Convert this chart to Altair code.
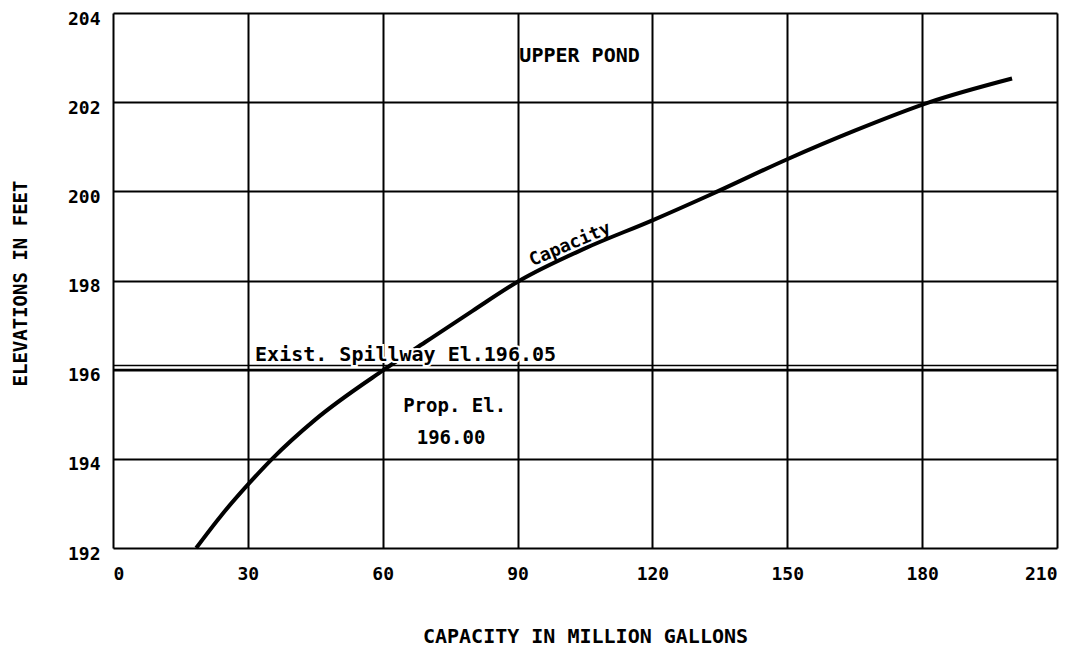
import altair as alt
import pandas as pd

# Capacity curve
capacity = [18.5, 24, 30, 35.4, 45, 60.3, 69.5, 80, 90.5, 105, 120, 133, 150, 165, 181.7, 200]
elevation = [192.0, 192.72, 193.42, 194.0, 194.88, 196.0, 196.62, 197.32, 198.0, 198.72,
             199.35, 199.93, 200.72, 201.36, 202.0, 202.53]

x_ticks = [0, 30, 60, 90, 120, 150, 180, 210]
y_ticks = [192, 194, 196, 198, 200, 202, 204]

spillway_el = 196.05
prop_el = 196.00

FONT = "DejaVu Sans Mono"

curve_df = pd.DataFrame({"cap": capacity, "el": elevation})

xscale = alt.Scale(domain=[0, 210], nice=False, zero=False)
yscale = alt.Scale(domain=[192, 204], nice=False, zero=False)

xaxis = alt.Axis(values=x_ticks, grid=True, gridColor="black", gridWidth=2, gridOpacity=1,
                 ticks=False, domain=False, labelFont=FONT, labelFontWeight="bold",
                 labelFontSize=18, labelColor="black", labelPadding=17,
                 title="CAPACITY IN MILLION GALLONS", titleFont=FONT, titleFontWeight="bold",
                 titleFontSize=20, titleColor="black", titleX=472, titleY=88,
                 titleAlign="center", titleBaseline="middle")
yaxis = alt.Axis(values=y_ticks, grid=True, gridColor="black", gridWidth=2, gridOpacity=1,
                 ticks=False, domain=False, labelFont=FONT, labelFontWeight="bold",
                 labelFontSize=18, labelColor="black", labelPadding=13, labelOffset=6,
                 title="ELEVATIONS IN FEET", titleFont=FONT, titleFontWeight="bold",
                 titleFontSize=19, titleColor="black", titleX=-93, titleY=270,
                 titleAngle=270, titleAlign="center", titleBaseline="middle")

base_axes = alt.Chart(curve_df).mark_point(opacity=0).encode(
    x=alt.X("cap:Q", scale=xscale, axis=xaxis),
    y=alt.Y("el:Q", scale=yscale, axis=yaxis),
)

curve = alt.Chart(curve_df).mark_line(color="black", strokeWidth=4, interpolate="monotone").encode(
    x=alt.X("cap:Q", scale=xscale),
    y=alt.Y("el:Q", scale=yscale),
)

lines_df = pd.DataFrame({"el": [prop_el]})
prop_line = alt.Chart(lines_df).mark_rule(color="black", strokeWidth=2).encode(
    y=alt.Y("el:Q", scale=yscale)
)
spill_df = pd.DataFrame({"el": [spillway_el]})
spill_line = alt.Chart(spill_df).mark_rule(color="black", strokeWidth=1.5, yOffset=-2).encode(
    y=alt.Y("el:Q", scale=yscale)
)

spill_text_df = pd.DataFrame({"cap": [31.6], "el": [196.2], "t": ["Exist. Spillway El.196.05"]})
spill_halo = alt.Chart(spill_text_df).mark_text(
    font=FONT, fontSize=20, fontWeight="bold", align="left", baseline="alphabetic",
    color="white", stroke="white", strokeWidth=4
).encode(x=alt.X("cap:Q", scale=xscale), y=alt.Y("el:Q", scale=yscale), text="t:N")
spill_text = alt.Chart(spill_text_df).mark_text(
    font=FONT, fontSize=20, fontWeight="bold", align="left", baseline="alphabetic", color="black"
).encode(x=alt.X("cap:Q", scale=xscale), y=alt.Y("el:Q", scale=yscale), text="t:N")

labels_df = pd.DataFrame({
    "cap": [76.0, 75.2, 90.4],
    "el": [195.19, 194.47, 203.04],
    "t": ["Prop. El.", "196.00", "UPPER POND"],
})
center_labels = alt.Chart(labels_df.iloc[:2]).mark_text(
    font=FONT, fontSize=19, fontWeight="bold", align="center", baseline="middle", color="black"
).encode(x=alt.X("cap:Q", scale=xscale), y=alt.Y("el:Q", scale=yscale), text="t:N")
pond_label = alt.Chart(labels_df.iloc[2:]).mark_text(
    font=FONT, fontSize=20, fontWeight="bold", align="left", baseline="middle", color="black"
).encode(x=alt.X("cap:Q", scale=xscale), y=alt.Y("el:Q", scale=yscale), text="t:N")

cap_df = pd.DataFrame({"cap": [102.3], "el": [198.66], "t": ["Capacity"]})
cap_label = alt.Chart(cap_df).mark_text(
    font=FONT, fontSize=18, fontWeight="bold", align="center", baseline="alphabetic", angle=337,
    color="black", dy=-2
).encode(x=alt.X("cap:Q", scale=xscale), y=alt.Y("el:Q", scale=yscale), text="t:N")

chart = alt.layer(
    base_axes, prop_line, spill_line, curve, spill_halo, spill_text,
    center_labels, pond_label, cap_label
).properties(
    width=944, height=535,
    autosize=alt.AutoSizeParams(type="none"),
    padding={"left": 105, "top": 5, "right": 10, "bottom": 100},
).configure_view(
    stroke="black", strokeWidth=3
).configure(background="white")

chart.save("out.html", embed_options={"renderer": "svg", "actions": False})
